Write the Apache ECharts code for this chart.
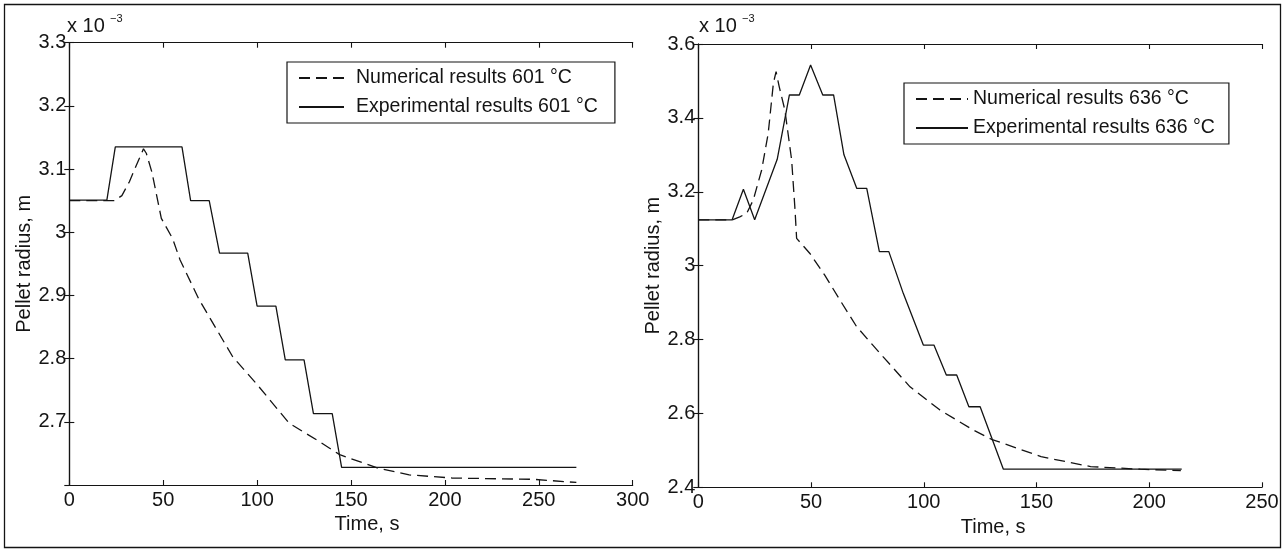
<!DOCTYPE html>
<html>
<head>
<meta charset="utf-8">
<script src="https://cdn.jsdelivr.net/npm/echarts@6/dist/echarts.min.js"></script>
<style>
  html, body { margin: 0; padding: 0; background: #fff; }
  #chart { width: 1284px; height: 551px; }
</style>
</head>
<body>
<div id="chart"></div>
<script>
// pellet radius vs time, two furnace temperatures (radius in units of 1e-3 m)
const FONT = "'Liberation Sans', Arial, sans-serif";
const INK = '#141414';

// 601 °C
const time601Num = [0, 24, 28, 32, 36, 39.5, 41, 44, 49, 55, 59, 69, 87, 100, 117, 133, 144, 164, 181, 204, 247, 270];
const rad601Num = [3.05, 3.05, 3.058, 3.08, 3.108, 3.132, 3.125, 3.095, 3.022, 2.99, 2.956, 2.894, 2.803, 2.759, 2.698, 2.669, 2.648, 2.627, 2.616, 2.611, 2.609, 2.604];
const time601Exp = [0, 20, 24.5, 60, 64.6, 74.5, 80, 95, 100, 110, 115, 125, 130, 140, 145, 270];
const rad601Exp = [3.051, 3.051, 3.135, 3.135, 3.05, 3.05, 2.967, 2.967, 2.883, 2.883, 2.798, 2.798, 2.713, 2.713, 2.628, 2.628];

// 636 °C
const time636Num = [0, 15, 18.4, 21.5, 24.4, 28.1, 31, 33.3, 34.5, 35.9, 38.4, 41.4, 42.9, 43.6, 49.5, 56, 62.8, 70.2, 82, 93.9, 107.2, 122, 130, 142.7, 152, 174, 196, 214];
const rad636Num = [3.124, 3.124, 3.132, 3.142, 3.178, 3.259, 3.358, 3.494, 3.525, 3.484, 3.421, 3.286, 3.151, 3.074, 3.033, 2.975, 2.907, 2.835, 2.753, 2.672, 2.609, 2.555, 2.530, 2.503, 2.483, 2.456, 2.449, 2.445];
const time636Exp = [0, 15, 20, 25, 35, 40.4, 44.8, 49.8, 55.2, 60, 64.6, 70.3, 74.7, 80.3, 84.5, 90.9, 99.8, 104.5, 110, 114.6, 120, 125, 135.3, 214.4];
const rad636Exp = [3.124, 3.124, 3.207, 3.124, 3.288, 3.462, 3.462, 3.543, 3.462, 3.462, 3.30, 3.209, 3.209, 3.038, 3.038, 2.925, 2.785, 2.785, 2.704, 2.704, 2.618, 2.618, 2.449, 2.449];

const names601 = ['Numerical results 601 °C', 'Experimental results 601 °C'];
const names636 = ['Numerical results 636 °C', 'Experimental results 636 °C'];

function zip(xs, ys) {
    return xs.map((x, i) => [x, ys[i]]);
}

let myChart = echarts.init(document.getElementById('chart'), null, { renderer: 'canvas' });

const axisLine = { lineStyle: { color: INK, width: 1.2 } };
const tick = { inside: true, length: 5, lineStyle: { color: INK, width: 1.1 } };
const label = { color: INK, fontSize: 20, fontFamily: FONT };

function xAxes(grid, max, shift) {
    return [{
        gridIndex: grid, type: 'value', position: 'bottom',
        min: 0, max: max, interval: 50,
        axisLine: axisLine, axisTick: tick, splitLine: { show: false },
        axisLabel: Object.assign({ margin: 5 }, label),
        name: 'Time, s', nameLocation: 'middle', nameGap: 27,
        nameTextStyle: { color: INK, fontSize: 20, fontFamily: FONT, padding: [0, 0, 0, shift] }
    }, {
        gridIndex: grid, type: 'value', position: 'top',
        min: 0, max: max, interval: 50,
        axisLine: axisLine, axisTick: tick, splitLine: { show: false },
        axisLabel: { show: false }
    }];
}

function yAxes(grid, min, max, step, showMin) {
    return [{
        gridIndex: grid, type: 'value', position: 'left',
        min: min, max: max, interval: step,
        axisLine: axisLine, axisTick: tick, splitLine: { show: false },
        axisLabel: Object.assign({ margin: 3, showMinLabel: showMin }, label),
        name: 'Pellet radius, m', nameLocation: 'middle', nameGap: 31,
        nameTextStyle: { color: INK, fontSize: 20, fontFamily: FONT }
    }, {
        gridIndex: grid, type: 'value', position: 'right',
        min: min, max: max, interval: step,
        axisLine: axisLine, axisTick: tick, splitLine: { show: false },
        axisLabel: { show: false }
    }];
}

function legendBox(names, left, top, itemWidth, textGap, pad) {
    return {
        data: names, orient: 'vertical', left: left, top: top,
        itemWidth: itemWidth, itemHeight: 14, itemGap: 9,
        backgroundColor: '#fff', borderColor: INK, borderWidth: 1.2, borderRadius: 0,
        padding: pad, selectedMode: false,
        itemStyle: { opacity: 0 },
        textStyle: { color: INK, fontSize: 19.5, fontFamily: FONT, padding: [0, 0, 0, textGap] }
    };
}

const dashed = { color: INK, width: 1.3, type: [11, 6] };
const solid = { color: INK, width: 1.3, type: 'solid' };

function line(name, data, xi, yi, style) {
    return {
        name: name, type: 'line', xAxisIndex: xi, yAxisIndex: yi,
        data: data, symbol: 'none', lineStyle: style, itemStyle: { color: INK },
        z: 3
    };
}

let option = {
    animation: false,
    backgroundColor: '#fff',
    grid: [
        { left: 69.3, top: 42.7, width: 563.4, height: 442.3 },
        { left: 698.3, top: 44, width: 563.7, height: 443.3 }
    ],
    xAxis: xAxes(0, 300, 32).concat(xAxes(1, 250, 26)),
    yAxis: yAxes(0, 2.6, 3.3, 0.1, false).concat(yAxes(1, 2.4, 3.6, 0.2, true)),
    legend: [
        legendBox(names601, 287, 62, 45, 7, [6, 17, 6, 11]),
        legendBox(names636, 904, 83, 52, 0, [6, 14, 6, 11])
    ],
    graphic: [
        // outer frame
        { type: 'rect', shape: { x: 4.5, y: 4.5, width: 1276, height: 543 }, style: { fill: 'none', stroke: INK, lineWidth: 1.3 }, silent: true },
        // axis multipliers
        { type: 'text', x: 67, y: 26.5, style: { text: 'x 10', font: '20px ' + FONT, fill: INK, verticalAlign: 'middle' } },
        { type: 'text', x: 110, y: 19, style: { text: '−3', font: '11px ' + FONT, fill: INK, verticalAlign: 'middle' } },
        { type: 'text', x: 699, y: 26.5, style: { text: 'x 10', font: '20px ' + FONT, fill: INK, verticalAlign: 'middle' } },
        { type: 'text', x: 742, y: 19, style: { text: '−3', font: '11px ' + FONT, fill: INK, verticalAlign: 'middle' } }
    ],
    series: [
        line(names601[0], zip(time601Num, rad601Num), 0, 0, dashed),
        line(names601[1], zip(time601Exp, rad601Exp), 0, 0, solid),
        line(names636[0], zip(time636Num, rad636Num), 2, 2, dashed),
        line(names636[1], zip(time636Exp, rad636Exp), 2, 2, solid)
    ]
};

myChart.setOption(option);
</script>
</body>
</html>
